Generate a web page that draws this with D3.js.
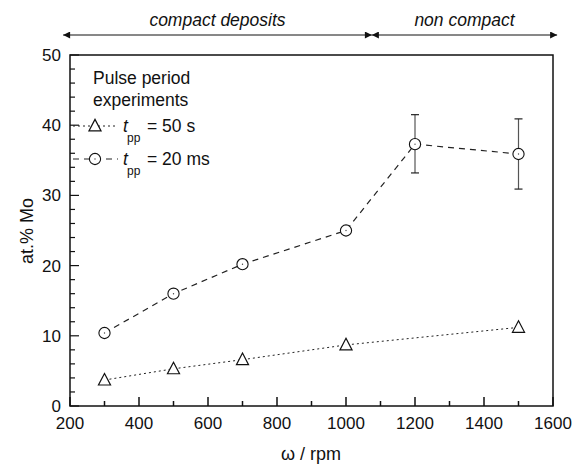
<!DOCTYPE html>
<html>
<head>
<meta charset="utf-8">
<script src="https://cdn.jsdelivr.net/npm/d3@7"></script>
<style>
  body { margin: 0; background: #fff; }
  svg text { font-family: "Liberation Sans", Arial, sans-serif; fill: #111; }
</style>
</head>
<body>
<div id="chart"></div>
<script>
const rpmTri = [300, 500, 700, 1000, 1500];
const moTri = [3.7, 5.3, 6.6, 8.7, 11.2];

const rpmCirc = [300, 500, 700, 1000, 1200, 1500];
const moCirc = [10.4, 16.0, 20.2, 25.0, 37.3, 35.9];
const errLow = [null, null, null, null, 33.2, 30.9];
const errHigh = [null, null, null, null, 41.5, 40.9];

const xTicks = [200, 400, 600, 800, 1000, 1200, 1400, 1600];
const yTicks = [0, 10, 20, 30, 40, 50];

const regions = [
  { label: "compact deposits", from: 180, to: 1075 },
  { label: "non compact", from: 1075, to: 1612 }
];

const W = 573, H = 467;
const margin = { left: 70, right: 20, top: 55, bottom: 61 };
const width = W - margin.left - margin.right;
const height = H - margin.top - margin.bottom;

const svg = d3.select("#chart").append("svg")
  .attr("width", W).attr("height", H);

const defs = svg.append("defs");
defs.append("marker")
  .attr("id", "arr")
  .attr("viewBox", "0 0 10 10")
  .attr("refX", 10).attr("refY", 5)
  .attr("markerWidth", 10).attr("markerHeight", 7)
  .attr("markerUnits", "userSpaceOnUse")
  .attr("orient", "auto-start-reverse")
  .append("path").attr("d", "M0,0 L10,5 L0,10 Z").attr("fill", "#111");

const g = svg.append("g").attr("transform", `translate(${margin.left},${margin.top})`);

const x = d3.scaleLinear().domain([200, 1600]).range([0, width]);
const y = d3.scaleLinear().domain([0, 50]).range([height, 0]);

// minor ticks
const xMinor = d3.range(200, 1601, 100);
const yMinor = d3.range(0, 51, 2);

g.selectAll(".xminor").data(xMinor).enter().append("line")
  .attr("x1", d => x(d)).attr("x2", d => x(d))
  .attr("y1", height).attr("y2", d => height - (d % 200 === 0 ? 9 : 5))
  .attr("stroke", "#111").attr("stroke-width", 1.5);

g.selectAll(".yminor").data(yMinor).enter().append("line")
  .attr("y1", d => y(d)).attr("y2", d => y(d))
  .attr("x1", 0).attr("x2", d => (d % 10 === 0 ? 9 : 5))
  .attr("stroke", "#111").attr("stroke-width", 1.2);

// frame
g.append("rect")
  .attr("x", 0).attr("y", 0).attr("width", width).attr("height", height)
  .attr("fill", "none").attr("stroke", "#111").attr("stroke-width", 1.5);

// tick labels
g.selectAll(".xl").data(xTicks).enter().append("text")
  .attr("x", d => x(d)).attr("y", height + 23)
  .attr("text-anchor", "middle").style("font-size", "17px")
  .text(d => d);

g.selectAll(".yl").data(yTicks).enter().append("text")
  .attr("x", -9).attr("y", d => y(d) + 6)
  .attr("text-anchor", "end").style("font-size", "17px")
  .text(d => d);

// axis titles
svg.append("text")
  .attr("x", 311).attr("y", 460)
  .attr("text-anchor", "middle").style("font-size", "18px")
  .text("\u03c9 / rpm");

svg.append("text")
  .attr("transform", "translate(33,231) rotate(-90)")
  .attr("text-anchor", "middle").style("font-size", "18px")
  .text("at.% Mo");

// region arrows
const topG = svg.append("g").attr("transform", `translate(${margin.left},0)`);
regions.forEach(r => {
  topG.append("line")
    .attr("x1", x(r.from)).attr("x2", x(r.to))
    .attr("y1", 35).attr("y2", 35)
    .attr("stroke", "#111").attr("stroke-width", 1)
    .attr("marker-start", "url(#arr)").attr("marker-end", "url(#arr)");
  topG.append("text")
    .attr("x", (x(r.from) + x(r.to)) / 2).attr("y", 26)
    .attr("text-anchor", "middle").style("font-size", "17.5px")
    .style("font-style", "italic")
    .text(r.label);
});

const line = d3.line().x(d => x(d[0])).y(d => y(d[1]));

// error bars
const errs = rpmCirc.map((r, i) => ({ r, lo: errLow[i], hi: errHigh[i] })).filter(d => d.lo !== null);
errs.forEach(d => {
  g.append("line").attr("x1", x(d.r)).attr("x2", x(d.r))
    .attr("y1", y(d.lo)).attr("y2", y(d.hi))
    .attr("stroke", "#555").attr("stroke-width", 1.2);
  [d.lo, d.hi].forEach(v => {
    g.append("line").attr("x1", x(d.r) - 4).attr("x2", x(d.r) + 4)
      .attr("y1", y(v)).attr("y2", y(v))
      .attr("stroke", "#222").attr("stroke-width", 1.2);
  });
});

// series lines
g.append("path").datum(rpmTri.map((r, i) => [r, moTri[i]]))
  .attr("d", line).attr("fill", "none")
  .attr("stroke", "#222").attr("stroke-width", 1).attr("stroke-dasharray", "2,3");

g.append("path").datum(rpmCirc.map((r, i) => [r, moCirc[i]]))
  .attr("d", line).attr("fill", "none")
  .attr("stroke", "#222").attr("stroke-width", 1.2).attr("stroke-dasharray", "6,5");

const triPath = (cx, cy, s) => `M${cx},${cy - s * 0.6} L${cx + s * 0.55},${cy + s * 0.45} L${cx - s * 0.55},${cy + s * 0.45} Z`;

const drawTri = (cx, cy) => {
  g.append("path").attr("d", triPath(cx, cy, 11))
    .attr("fill", "#fff").attr("stroke", "#111").attr("stroke-width", 1.2);
};
const drawCirc = (cx, cy) => {
  g.append("circle").attr("cx", cx).attr("cy", cy).attr("r", 5.6)
    .attr("fill", "#fff").attr("stroke", "#111").attr("stroke-width", 1.1);
  g.append("circle").attr("cx", cx).attr("cy", cy).attr("r", 0.7).attr("fill", "#444");
};

rpmTri.forEach((r, i) => drawTri(x(r), y(moTri[i])));
rpmCirc.forEach((r, i) => drawCirc(x(r), y(moCirc[i])));

// legend
const lg = g.append("g");
lg.append("text").attr("x", 23).attr("y", 29).style("font-size", "17.5px").text("Pulse period");
lg.append("text").attr("x", 23).attr("y", 51).style("font-size", "17.5px").text("experiments");

const legendRows = [
  { y: 71, dash: "2,3", w: 1, label: "= 50 s", tri: true },
  { y: 104, dash: "6,5", w: 1.2, label: "= 20 ms", tri: false }
];
legendRows.forEach(row => {
  lg.append("line").attr("x1", 3).attr("x2", 48).attr("y1", row.y).attr("y2", row.y)
    .attr("stroke", "#222").attr("stroke-width", row.w).attr("stroke-dasharray", row.dash);
  if (row.tri) {
    lg.append("path").attr("d", triPath(25, row.y, 11))
      .attr("fill", "#fff").attr("stroke", "#111").attr("stroke-width", 1.2);
  } else {
    lg.append("circle").attr("cx", 25).attr("cy", row.y).attr("r", 5.6)
      .attr("fill", "#fff").attr("stroke", "#111").attr("stroke-width", 1.1);
    lg.append("circle").attr("cx", 25).attr("cy", row.y).attr("r", 0.7).attr("fill", "#444");
  }
  lg.append("text").attr("x", 53).attr("y", row.y + 6).style("font-size", "17.5px")
    .style("font-style", "italic").text("t");
  lg.append("text").attr("x", 57).attr("y", row.y + 16).style("font-size", "12px").text("pp");
  lg.append("text").attr("x", 77).attr("y", row.y + 6).style("font-size", "17.5px").text(row.label);
});
</script>
</body>
</html>
